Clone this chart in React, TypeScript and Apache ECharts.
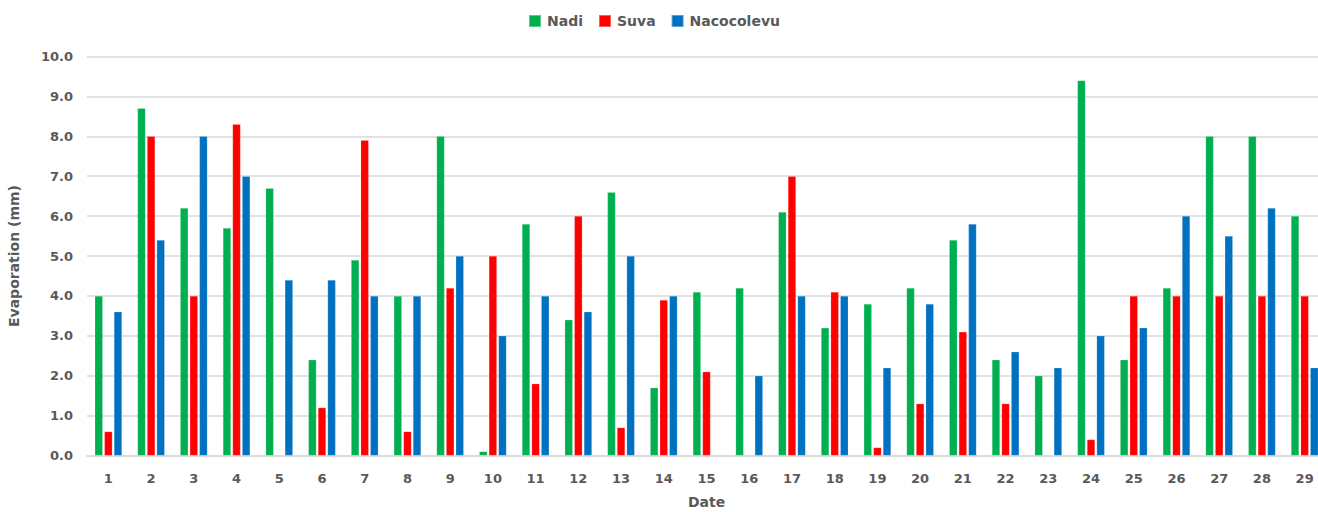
import React, { useEffect, useRef } from "react";
import * as echarts from "echarts";

const dates = [
  "1", "2", "3", "4", "5", "6", "7", "8", "9", "10",
  "11", "12", "13", "14", "15", "16", "17", "18", "19", "20",
  "21", "22", "23", "24", "25", "26", "27", "28", "29",
];

const nadi = [
  4.0, 8.7, 6.2, 5.7, 6.7, 2.4, 4.9, 4.0, 8.0, 0.1,
  5.8, 3.4, 6.6, 1.7, 4.1, 4.2, 6.1, 3.2, 3.8, 4.2,
  5.4, 2.4, 2.0, 9.4, 2.4, 4.2, 8.0, 8.0, 6.0,
];

const suva = [
  0.6, 8.0, 4.0, 8.3, null, 1.2, 7.9, 0.6, 4.2, 5.0,
  1.8, 6.0, 0.7, 3.9, 2.1, null, 7.0, 4.1, 0.2, 1.3,
  3.1, 1.3, null, 0.4, 4.0, 4.0, 4.0, 4.0, 4.0,
];

const nacocolevu = [
  3.6, 5.4, 8.0, 7.0, 4.4, 4.4, 4.0, 4.0, 5.0, 3.0,
  4.0, 3.6, 5.0, 4.0, null, 2.0, 4.0, 4.0, 2.2, 3.8,
  5.8, 2.6, 2.2, 3.0, 3.2, 6.0, 5.5, 6.2, 2.2,
];

const seriesNames = ["Nadi", "Suva", "Nacocolevu"];
const seriesColors = ["#00B050", "#FF0000", "#0070C0"];

const FONT = "'DejaVu Sans', Verdana, sans-serif";
const TEXT_COLOR = "#595959";

export default function App() {
  const ref = useRef<HTMLDivElement>(null);

  useEffect(() => {
    if (!ref.current) return;
    document.body.style.margin = "0";
    document.body.style.overflow = "hidden";

    const chart = echarts.init(ref.current, undefined, { renderer: "svg" });
    const values = [nadi, suva, nacocolevu];

    chart.setOption({
      animation: false,
      backgroundColor: "#ffffff",
      textStyle: { fontFamily: FONT },
      legend: {
        top: 9,
        left: 523,
        itemWidth: 12,
        itemHeight: 12,
        itemGap: 15,
        icon: "rect",
        textStyle: {
          fontFamily: FONT,
          fontSize: 14,
          fontWeight: "bold",
          color: TEXT_COLOR,
          padding: [0, 0, 0, 1],
        },
        data: seriesNames,
      },
      grid: {
        left: 87,
        right: -8,
        top: 56.5,
        bottom: 56.5,
        containLabel: false,
        outerBoundsMode: "none",
      },
      xAxis: {
        type: "category",
        data: dates,
        name: "Date",
        nameLocation: "middle",
        nameGap: 39,
        nameTextStyle: {
          fontFamily: FONT,
          fontSize: 14,
          fontWeight: "bold",
          color: TEXT_COLOR,
        },
        axisLine: { show: true, lineStyle: { color: "#d9d9d9", width: 1.5 } },
        axisTick: { show: false },
        axisLabel: {
          margin: 16,
          fontFamily: FONT,
          fontSize: 13,
          fontWeight: "bold",
          color: TEXT_COLOR,
        },
      },
      yAxis: {
        type: "value",
        min: 0,
        max: 10,
        interval: 1,
        name: "Evaporation (mm)",
        nameLocation: "middle",
        nameGap: 66,
        nameRotate: 90,
        nameTextStyle: {
          fontFamily: FONT,
          fontSize: 14,
          fontWeight: "bold",
          color: TEXT_COLOR,
        },
        axisLine: { show: false },
        axisTick: { show: false },
        splitLine: { lineStyle: { color: "#d9d9d9", width: 1.5 } },
        axisLabel: {
          margin: 14,
          fontFamily: FONT,
          fontSize: 13,
          fontWeight: "bold",
          color: TEXT_COLOR,
          formatter: (v: number) => v.toFixed(1),
        },
      },
      series: seriesNames.map((name, i) => ({
        name,
        type: "bar",
        data: values[i],
        barWidth: 8,
        barGap: "20%",
        itemStyle: {
          color: seriesColors[i],
          borderColor: "rgba(255,255,255,0.35)",
          borderWidth: 0.5,
        },
      })),
    });

    return () => chart.dispose();
  }, []);

  return (
    <div
      ref={ref}
      style={{ position: "fixed", left: 0, top: 0, width: 1318, height: 512 }}
    />
  );
}
